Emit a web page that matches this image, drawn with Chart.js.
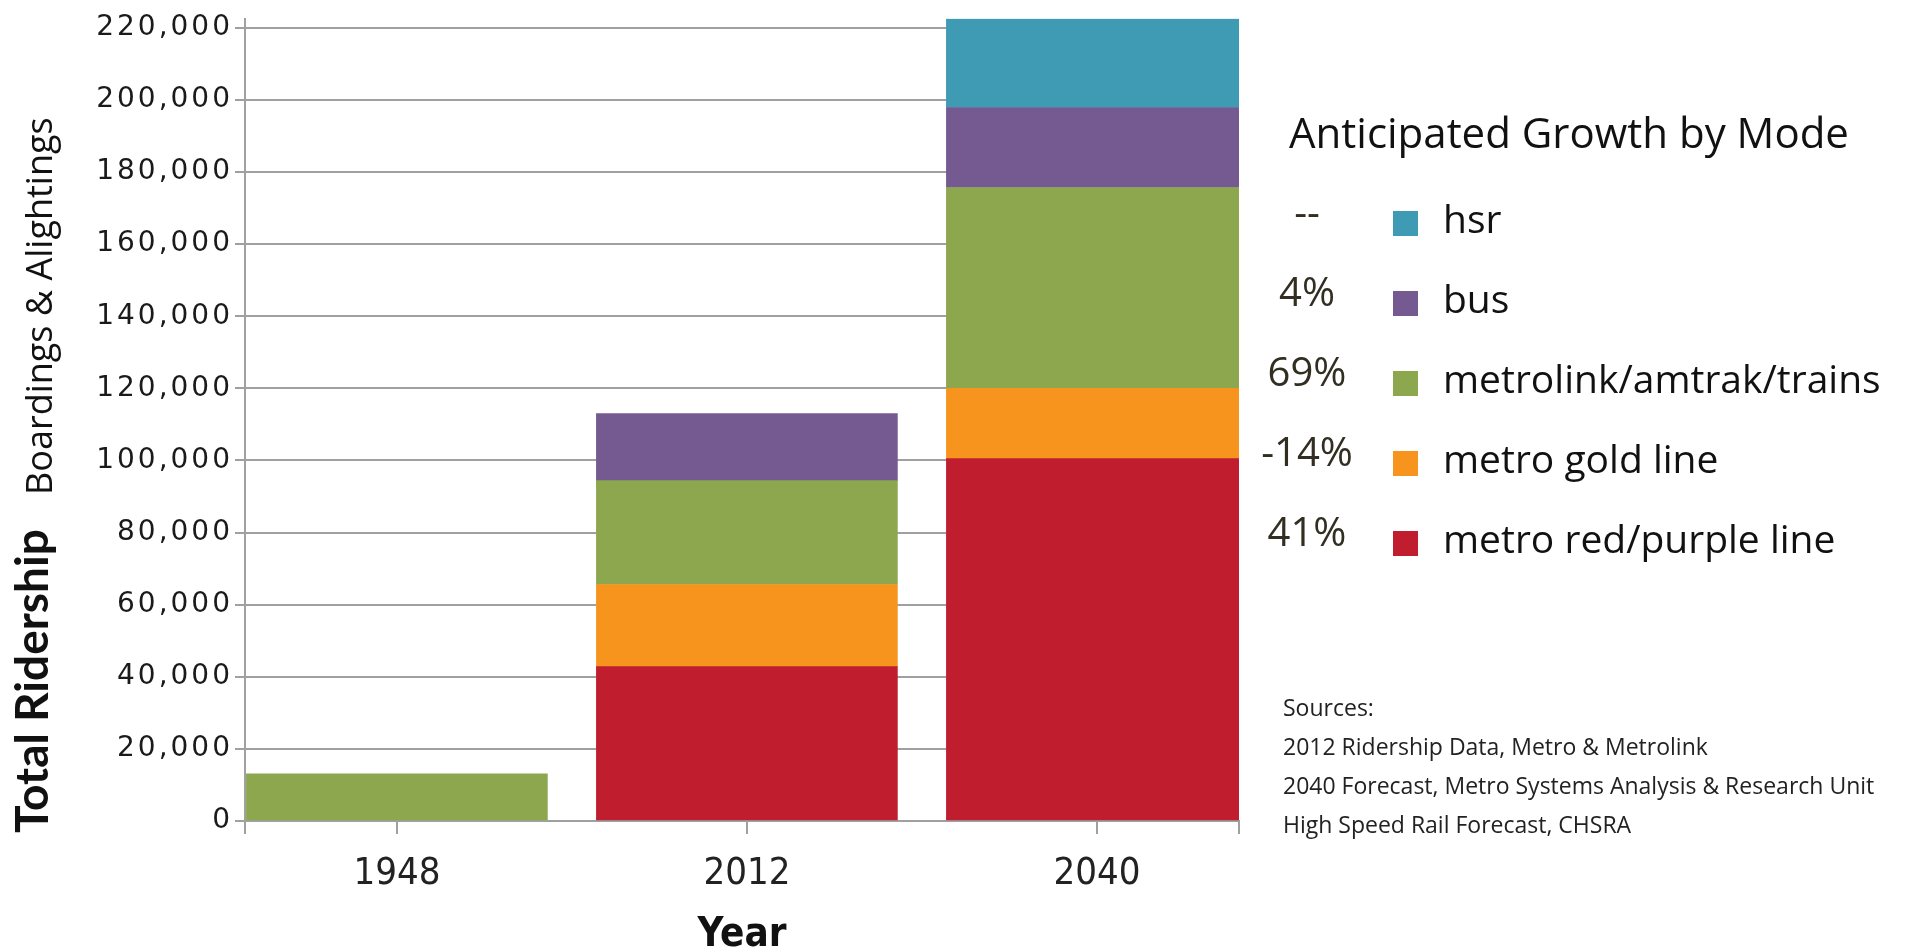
<!DOCTYPE html>
<html>
<head>
<meta charset="utf-8">
<title>Total Ridership</title>
<script src="https://cdn.jsdelivr.net/npm/chart.js@4.4.1/dist/chart.umd.min.js"></script>
<style>
  body { margin: 0; background: #fff; }
  #wrap { position: relative; width: 1908px; height: 950px; overflow: hidden; }
  #chart { position: absolute; left: 0; top: 0; }
  .legend-title { position: absolute; left: 1289px; top: 111px; font: 42px/42px "Open Sans", sans-serif; color: #111; white-space: nowrap; }
  .row { position: absolute; left: 1240px; width: 668px; height: 80px; }
  .pct { position: absolute; left: 0; top: 20px; width: 134px; text-align: center; font: 40px/40px "Open Sans", sans-serif; color: #332e22; }
  .box { position: absolute; left: 153px; top: 40px; width: 25px; height: 25px; }
  .name { position: absolute; left: 203px; top: 28px; font: 39px/38px "Open Sans", sans-serif; color: #111; white-space: nowrap; }
  .sources { position: absolute; left: 1283px; top: 688px; font: 23px/39px "Open Sans", sans-serif; color: #222; white-space: nowrap; }
</style>
</head>
<body>
<div id="wrap">
  <canvas id="chart" width="1908" height="950"></canvas>
  <div class="legend-title">Anticipated Growth by Mode</div>
  <div id="legend"></div>
  <div class="sources" id="sources"></div>
</div>
<script>
// years on the x axis
var years = ['1948', '2012', '2040'];

// modes, bottom of the stack first
var modes = ['metro red/purple line', 'metro gold line', 'metrolink/amtrak/trains', 'bus', 'hsr'];
var colors = ['#c01e2e', '#f7941e', '#8da74f', '#755a92', '#3f9ab3'];
var growth = ['41%', '-14%', '69%', '4%', '--'];

// boardings & alightings per mode and year
var redLine  = [null, 42800, 100500];
var goldLine = [null, 22800, 19500];
var trains   = [13100, 28800, 55700];
var bus      = [null, 18600, 22200];
var hsr      = [null, null, 24600];

// y axis ticks
var yTicks = [0, 20000, 40000, 60000, 80000, 100000, 120000, 140000, 160000, 180000, 200000, 220000];

var sources = [
  'Sources:',
  '2012 Ridership Data, Metro & Metrolink',
  '2040 Forecast, Metro Systems Analysis & Research Unit',
  'High Speed Rail Forecast, CHSRA'
];

var series = [redLine, goldLine, trains, bus, hsr];
var gridColor = '#a0a0a0';
var narrow = '"Liberation Sans Narrow", "DejaVu Sans Condensed", "Roboto Condensed", sans-serif';

// y axis titles, two fonts on one rotated line
var axisText = {
  id: 'axisText',
  beforeDraw: function (chart) { chart.ctx.letterSpacing = '0px'; },
  afterDatasetsDraw: function (chart) { chart.ctx.letterSpacing = '3px'; },
  afterDraw: function (chart) {
    var ctx = chart.ctx;
    ctx.letterSpacing = '0px';
    ctx.save();
    ctx.translate(48, 833);
    ctx.rotate(-Math.PI / 2);
    ctx.fillStyle = '#111';
    ctx.textAlign = 'left';
    ctx.textBaseline = 'alphabetic';
    ctx.font = 'bold 46px Lato, sans-serif';
    ctx.fillText('Total Ridership', 0, 0);
    ctx.font = '36px "Open Sans", sans-serif';
    ctx.fillText('Boardings & Alightings', 338, 4);
    ctx.restore();
  }
};

new Chart(document.getElementById('chart'), {
  type: 'bar',
  data: {
    labels: years.map(function (y, i) { return i; }),
    datasets: series.map(function (d, i) {
      return {
        label: modes[i],
        data: d,
        backgroundColor: colors[i],
        borderWidth: 0,
        barThickness: 301,
        clip: 0
      };
    })
  },
  options: {
    responsive: false,
    animation: false,
    layout: { padding: { left: 0, right: 669, top: 13, bottom: 0 } },
    plugins: { legend: { display: false }, tooltip: { enabled: false } },
    scales: {
      x: {
        type: 'linear',
        stacked: true,
        offset: false,
        min: -0.434,
        max: 2.406,
        afterFit: function (s) { s.height = 129; },
        afterBuildTicks: function (s) {
          // a mark at each year plus one at both ends of the axis
          var t = [{ value: s.min }];
          years.forEach(function (y, i) { t.push({ value: i }); });
          t.push({ value: s.max });
          s.ticks = t;
        },
        grid: { offset: false, drawOnChartArea: false, color: gridColor, lineWidth: 2, tickLength: 13 },
        border: { display: true, color: gridColor, width: 2 },
        ticks: {
          padding: 17,
          color: '#222',
          font: { family: narrow, size: 38 },
          callback: function (v) { return years[v] || ''; }
        },
        title: {
          display: true,
          text: 'Year',
          color: '#111',
          padding: { top: 0, bottom: -6 },
          font: { family: narrow, size: 40, weight: 'bold', lineHeight: 1 }
        }
      },
      y: {
        stacked: true,
        min: 0,
        max: 222500,
        afterFit: function (s) { s.width = 245; },
        afterBuildTicks: function (s) {
          s.ticks = yTicks.map(function (v) { return { value: v }; });
        },
        grid: { color: gridColor, lineWidth: 2, tickLength: 10 },
        border: { display: true, color: gridColor, width: 2 },
        ticks: {
          z: 1,
          padding: 2,
          color: '#1a1a1a',
          font: { family: '"DejaVu Sans", sans-serif', size: 28 },
          callback: function (v) { return v.toLocaleString('en-US'); }
        }
      }
    }
  },
  plugins: [axisText]
});

// legend, hsr on top
var legend = document.getElementById('legend');
for (var i = modes.length - 1; i >= 0; i--) {
  var row = document.createElement('div');
  row.className = 'row';
  row.style.top = (171 + 80 * (modes.length - 1 - i)) + 'px';
  row.innerHTML = '<span class="pct"></span><span class="box"></span><span class="name"></span>';
  row.children[0].textContent = growth[i];
  row.children[1].style.background = colors[i];
  row.children[2].textContent = modes[i];
  legend.appendChild(row);
}

var src = document.getElementById('sources');
sources.forEach(function (line) {
  var div = document.createElement('div');
  div.textContent = line;
  src.appendChild(div);
});
</script>
</body>
</html>
